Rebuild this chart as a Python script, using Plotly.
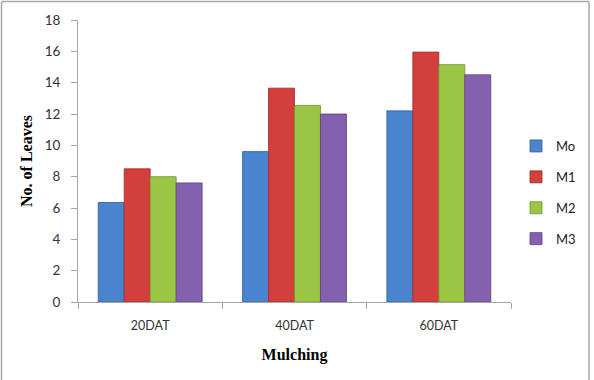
import plotly.graph_objects as go

categories = ["20DAT", "40DAT", "60DAT"]
series_names = ["Mo", "M1", "M2", "M3"]
mo = [6.35, 9.6, 12.2]
m1 = [8.5, 13.65, 15.95]
m2 = [8.0, 12.55, 15.15]
m3 = [7.6, 12.0, 14.5]
colors = ["#4A84CE", "#D33F3D", "#9BC545", "#8461AE"]
borders = ["#2E5E9E", "#A02A28", "#6F9428", "#5E3F85"]
y_ticks = [0, 2, 4, 6, 8, 10, 12, 14, 16, 18]

fig = go.Figure()
for name, vals, c, b in zip(series_names, [mo, m1, m2, m3], colors, borders):
    fig.add_trace(go.Bar(
        x=categories, y=vals, name=name, legendgroup=name,
        marker=dict(color=c, line=dict(color=b, width=0.8)),
    ))

L, R, T, B = 78, 83, 20, 78
W, H = 594, 380
pw, ph = W - L - R, H - T - B

def px(x):
    return (x - L) / pw

def py(y):
    return (H - B - y) / ph

frame = dict(color="#A8A8A8", width=1.5)

fig.update_layout(
    width=W, height=H,
    margin=dict(l=L, r=R, t=T, b=B, autoexpand=False),
    paper_bgcolor="white", plot_bgcolor="white",
    barmode="group", bargap=0.28, bargroupgap=0,
    font=dict(family="Lato, Open Sans, sans-serif", size=12, color="#333333"),
    showlegend=True,
    legend=dict(x=px(516), y=py(131), xanchor="left", yanchor="top",
                font=dict(size=13, color="#222222"), tracegroupgap=11,
                bgcolor="rgba(0,0,0,0)"),
    xaxis=dict(showline=True, linecolor="#A6A6A6", linewidth=1,
               ticks="outside", tickson="boundaries", ticklen=6, tickcolor="#A6A6A6",
               ticklabelstandoff=12, showgrid=False,
               tickfont=dict(size=12.5),
               title=dict(text="Mulching", standoff=16,
                          font=dict(family="Liberation Serif", size=16, color="black", weight="bold"))),
    yaxis=dict(range=[0, 18], tickvals=y_ticks, showline=True, linecolor="#A6A6A6", linewidth=1,
               ticks="outside", ticklen=6, tickcolor="#A6A6A6", showgrid=False, zeroline=False,
               ticklabelstandoff=8, tickfont=dict(size=13.5),
               title=dict(text="No. of Leaves", standoff=8,
                          font=dict(family="Liberation Serif", size=16, color="black", weight="bold"))),
    shapes=[
        dict(type="line", xref="paper", yref="paper", x0=px(1.5), x1=px(1.5), y0=py(1.5), y1=py(400), line=frame),
        dict(type="line", xref="paper", yref="paper", x0=px(589), x1=px(589), y0=py(1.5), y1=py(400), line=frame),
        dict(type="line", xref="paper", yref="paper", x0=px(1.5), x1=px(589), y0=py(1.5), y1=py(1.5), line=frame),
    ],
)

fig.write_html("out.html")
